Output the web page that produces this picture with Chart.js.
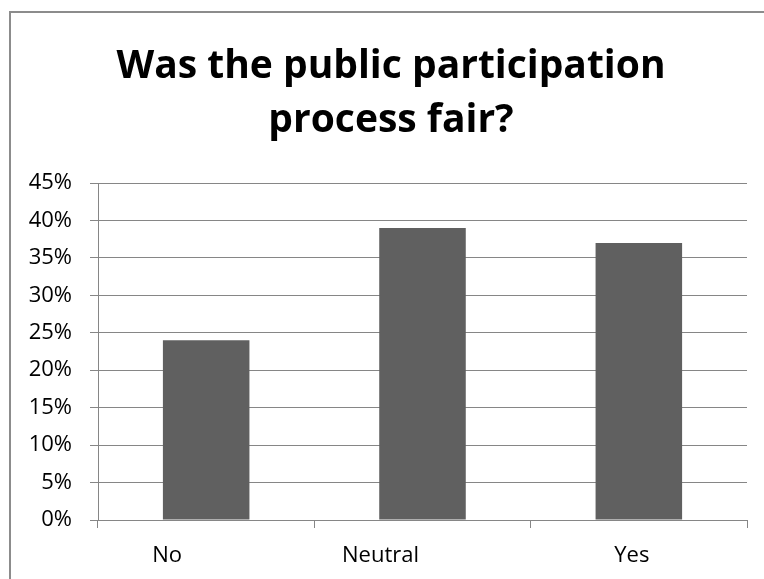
<!DOCTYPE html>
<html>
<head>
<meta charset="utf-8">
<script src="https://cdn.jsdelivr.net/npm/chart.js@4"></script>
<style>
  html, body { margin: 0; padding: 0; background: #ffffff; overflow: hidden; }
  #wrap { width: 764px; height: 579px; position: relative; }
</style>
</head>
<body>
<div id="wrap"><canvas id="chart" width="764" height="579"></canvas></div>
<script>
// Survey answers and their share of respondents (%)
const categories = ['No', 'Neutral', 'Yes'];
const shares = [24, 39, 37];

// Percentage axis
const yMin = 0;
const yMax = 45;
const yStep = 5;

// Chart heading, one entry per line
const titleLines = ['Was the public participation', 'process fair?'];

// Horizontal nudge of each category label (px)
const labelNudge = [-39, -42, -7];

const gridGray = '#868686';
const barGray = '#606060';
const bodyFont = '"Open Sans", "DejaVu Sans", sans-serif';

// White page, outer frame (left and top edges) and the heading
const framePlugin = {
  id: 'frame',
  beforeDraw(chart) {
    const ctx = chart.ctx;
    ctx.save();
    ctx.fillStyle = '#ffffff';
    ctx.fillRect(0, 0, chart.width, chart.height);
    ctx.strokeStyle = '#8c8c8c';
    ctx.lineWidth = 2;
    ctx.beginPath();
    ctx.moveTo(10, chart.height + 5);
    ctx.lineTo(10, 12);
    ctx.lineTo(chart.width + 5, 12);
    ctx.stroke();

    ctx.fillStyle = '#000000';
    ctx.font = 'bold 39px ' + bodyFont;
    ctx.textAlign = 'center';
    ctx.textBaseline = 'alphabetic';
    titleLines.forEach((t, i) => ctx.fillText(t, 391, 78 + i * 54));
    ctx.restore();
  }
};

// Category names under the axis
const categoryLabels = {
  id: 'categoryLabels',
  afterDraw(chart) {
    const ctx = chart.ctx;
    const xs = chart.scales.x;
    ctx.save();
    ctx.font = '22px ' + bodyFont;
    ctx.fillStyle = '#000000';
    ctx.textAlign = 'center';
    ctx.textBaseline = 'middle';
    categories.forEach((c, i) => {
      ctx.fillText(c, xs.getPixelForValue(i) + labelNudge[i], xs.top + 36);
    });
    ctx.restore();
  }
};

new Chart(document.getElementById('chart'), {
  type: 'bar',
  data: {
    labels: categories,
    datasets: [{
      data: shares,
      backgroundColor: barGray,
      borderWidth: 0,
      barPercentage: 0.4,
      categoryPercentage: 1.0
    }]
  },
  options: {
    responsive: false,
    animation: false,
    devicePixelRatio: 1,
    layout: { padding: { left: 0, right: 17, top: 183, bottom: 51 } },
    plugins: {
      legend: { display: false },
      tooltip: { enabled: false },
      title: { display: false }
    },
    scales: {
      x: {
        offset: true,
        grid: {
          display: true,
          offset: true,
          drawOnChartArea: false,
          drawTicks: true,
          tickLength: 8,
          color: gridGray,
          lineWidth: 1
        },
        border: { display: true, color: gridGray, width: 1 },
        ticks: { display: false }
      },
      y: {
        min: yMin,
        max: yMax,
        afterFit(scale) { scale.width = 98; },
        grid: {
          color: gridGray,
          lineWidth: 1,
          drawTicks: true,
          tickLength: 8
        },
        border: { display: true, color: gridGray, width: 1 },
        ticks: {
          stepSize: yStep,
          padding: 18,
          color: '#000000',
          font: { family: bodyFont, size: 22 },
          callback: v => v + '%'
        }
      }
    }
  },
  plugins: [framePlugin, categoryLabels]
});
</script>
</body>
</html>
